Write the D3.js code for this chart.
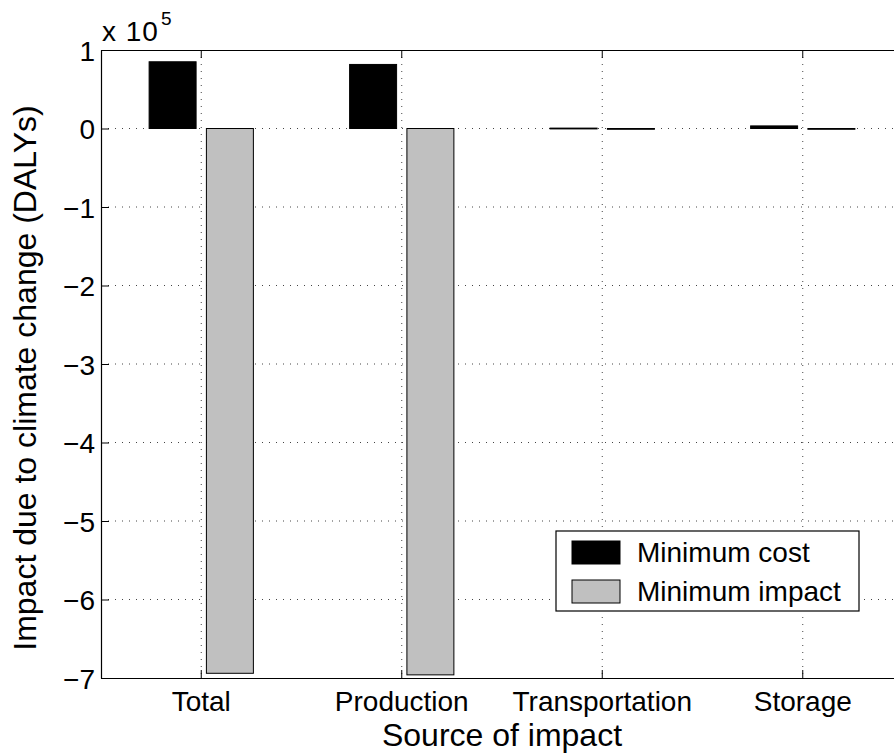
<!DOCTYPE html>
<html>
  <head>
    <script src="https://d3js.org/d3.v7.min.js"></script>
    <style>
      body { margin: 0; background: #fff; }
      svg { font-family: "Liberation Sans", Arial, sans-serif; }
      .grid line { stroke: #444; stroke-dasharray: 1,6; }
    </style>
  </head>
  <body>
    <script>
      // values (DALYs)
      var categories = ["Total", "Production", "Transportation", "Storage"];
      var seriesNames = ["Minimum cost", "Minimum impact"];
      var minCost = [85000, 81600, 500, 3300];
      var minImpact = [-694000, -696000, -300, -800];
      var yTicks = [1e5, 0, -1e5, -2e5, -3e5, -4e5, -5e5, -6e5, -7e5];
      var colors = ["#000000", "#c0c0c0"];

      var W = 894, H = 756;
      // plot box (the right edge falls outside the picture, as in the original)
      var pLeft = 101, pTop = 50, pRight = 903, pBottom = 678;

      var svg = d3.select("body").append("svg")
        .attr("width", W)
        .attr("height", H);

      var x = d3.scaleBand()
        .domain(categories)
        .range([pLeft, pRight]);
      var bw = x.bandwidth();

      var xs = d3.scaleBand()
        .domain(seriesNames)
        .range([0.24 * bw, 0.76 * bw])
        .paddingInner(0.18);

      var y = d3.scaleLinear()
        .domain([-7e5, 1e5])
        .range([pBottom, pTop]);

      // grid
      var grid = svg.append("g").attr("class", "grid");
      grid.selectAll(".gy")
        .data(yTicks.slice(1, -1))
        .enter().append("line")
        .attr("x1", pLeft).attr("x2", pRight)
        .attr("y1", function(d) { return y(d); })
        .attr("y2", function(d) { return y(d); });
      grid.selectAll(".gx")
        .data(categories)
        .enter().append("line")
        .attr("x1", function(d) { return x(d) + bw / 2; })
        .attr("x2", function(d) { return x(d) + bw / 2; })
        .attr("y1", pTop).attr("y2", pBottom);

      // bars
      var rows = [];
      categories.forEach(function(c, i) {
        rows.push({ cat: c, s: seriesNames[0], v: minCost[i], col: colors[0] });
        rows.push({ cat: c, s: seriesNames[1], v: minImpact[i], col: colors[1] });
      });
      svg.selectAll(".bar")
        .data(rows)
        .enter().append("rect")
        .attr("class", "bar")
        .attr("x", function(d) { return x(d.cat) + xs(d.s); })
        .attr("width", xs.bandwidth())
        .attr("y", function(d) { return Math.min(y(d.v), y(0)); })
        .attr("height", function(d) { return Math.max(Math.abs(y(d.v) - y(0)), 0.8); })
        .attr("fill", function(d) { return d.col; })
        .attr("stroke", "#000")
        .attr("stroke-width", 1);

      // axes (MATLAB style, ticks inward, box)
      var yAxis = d3.axisLeft(y)
        .tickValues(yTicks)
        .tickSizeInner(-8)
        .tickSizeOuter(0)
        .tickPadding(6)
        .tickFormat(function(d) { return d === 0 ? "0" : (d < 0 ? "\u2212" : "") + Math.abs(d / 1e5); });
      var gy = svg.append("g")
        .attr("transform", "translate(" + pLeft + ",0)")
        .call(yAxis);
      gy.selectAll("text").attr("font-size", 28).attr("dy", "0.36em");

      var xAxis = d3.axisBottom(x)
        .tickSizeInner(-8)
        .tickSizeOuter(0);
      var gx = svg.append("g")
        .attr("transform", "translate(0," + pBottom + ")")
        .call(xAxis);
      gx.selectAll("text").attr("font-size", 28).attr("dy", null).attr("y", 33);

      var xTop = d3.axisTop(x)
        .tickSizeInner(-8)
        .tickSizeOuter(0)
        .tickFormat("");
      svg.append("g")
        .attr("transform", "translate(0," + pTop + ")")
        .call(xTop);

      svg.selectAll(".domain").attr("stroke", "#000").attr("stroke-width", 1.2);
      svg.selectAll(".tick line").attr("stroke", "#000");
      svg.selectAll(".tick text").attr("fill", "#000");

      // exponent
      var ex = svg.append("text")
        .attr("x", pLeft + 1)
        .attr("y", 41)
        .attr("font-size", 28)
        .attr("letter-spacing", 1)
        .text("x 10");
      ex.append("tspan")
        .attr("font-size", 19)
        .attr("dy", -16)
        .attr("dx", 2)
        .text("5");

      // axis titles
      svg.append("text")
        .attr("x", 502)
        .attr("y", 746)
        .attr("text-anchor", "middle")
        .attr("font-size", 32)
        .text("Source of impact");
      svg.append("text")
        .attr("transform", "translate(36,378) rotate(-90)")
        .attr("text-anchor", "middle")
        .attr("font-size", 32)
        .text("Impact due to climate change (DALYs)");

      // legend
      var lg = svg.append("g").attr("transform", "translate(556,531)");
      lg.append("rect")
        .attr("width", 303).attr("height", 80)
        .attr("fill", "#fff").attr("stroke", "#000").attr("stroke-width", 1.2);
      seriesNames.forEach(function(s, i) {
        lg.append("rect")
          .attr("x", 16).attr("y", 10 + i * 39)
          .attr("width", 48).attr("height", 23)
          .attr("fill", colors[i]).attr("stroke", "#000");
        lg.append("text")
          .attr("x", 81).attr("y", 31 + i * 39)
          .attr("font-size", 28)
          .text(s);
      });
    </script>
  </body>
</html>
